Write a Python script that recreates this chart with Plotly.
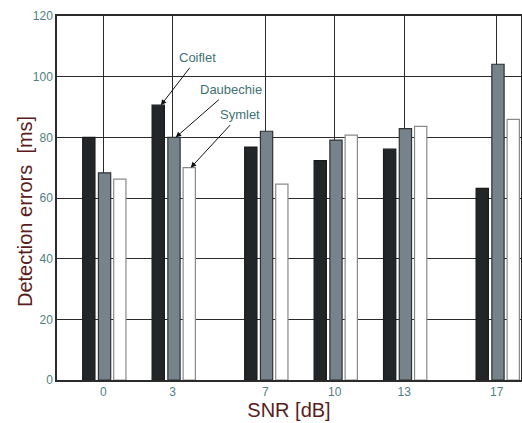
import plotly.graph_objects as go

snr = [0, 3, 7, 10, 13, 17]
coiflet = [80.0, 90.6, 76.8, 72.3, 76.1, 63.2]
daubechie = [68.3, 80.0, 82.0, 79.1, 82.9, 104.1]
symlet = [66.2, 70.0, 64.6, 80.7, 83.6, 85.9]
series_names = ["Coiflet", "Daubechie", "Symlet"]
y_ticks = [0, 20, 40, 60, 80, 100, 120]

tick_color = "#4f7f80"
title_color = "#5a1c1c"
grid_color = "#2b2b2b"
FONT = "Arial, Liberation Sans, sans-serif"

FW, FH = 522, 423
ML, MR, MT, MB = 57, 1, 16, 43
PW, PH = FW - ML - MR, FH - MT - MB

W = 0.53
offsets = [-0.89, -0.21, 0.45]
fills = ["#222628", "#77838b", "#ffffff"]
lines = ["#1a1a1a", "#2f3336", "#8a8a8a"]

fig = go.Figure()
for name, vals, off, fc, lc in zip(series_names, [coiflet, daubechie, symlet], offsets, fills, lines):
    fig.add_trace(go.Bar(
        x=snr, y=vals, name=name, width=W, offset=off,
        marker=dict(color=fc, line=dict(color=lc, width=1.2)),
        showlegend=False,
    ))

ann_font = dict(family=FONT, size=13, color="#3f7272")
label_specs = [
    (series_names[0], coiflet[1], offsets[0] + 0.38, 37, -48),
    (series_names[1], daubechie[1], offsets[1] + 0.34, 55, -48),
    (series_names[2], symlet[1], offsets[2] + 0.33, 49, -53),
]
for text, val, dx, ax, ay in label_specs:
    fig.add_annotation(
        x=snr[1] + dx, y=val, xref="x", yref="y", text=text,
        showarrow=True, arrowhead=2, arrowsize=1.1, arrowwidth=1, arrowcolor="#111111",
        ax=ax, ay=ay, font=ann_font, standoff=0, startstandoff=2,
    )

# y-axis title as rotated annotation (page px x=25, y=212)
fx, fy = 25, 212
fig.add_annotation(
    x=(fx - ML) / PW, y=(FH - fy - MB) / PH, xref="paper", yref="paper",
    xanchor="center", yanchor="middle",
    text="Detection errors  [ms]", showarrow=False, textangle=-90,
    font=dict(family=FONT, size=20, color=title_color),
)

fig.update_layout(
    width=FW, height=FH,
    margin=dict(l=ML, r=MR, t=MT, b=MB, autoexpand=False),
    paper_bgcolor="white", plot_bgcolor="white",
    barmode="overlay",
    xaxis=dict(
        range=[-2, 18.05], tickmode="array", tickvals=snr, ticktext=[str(s) for s in snr],
        showgrid=True, gridcolor=grid_color, gridwidth=1.3,
        showline=True, linecolor=grid_color, linewidth=1.5, mirror=True,
        ticks="", tickfont=dict(family=FONT, size=12, color=tick_color),
        title=dict(text="SNR [dB]", font=dict(family=FONT, size=20, color=title_color), standoff=2),
        zeroline=False, automargin=False,
    ),
    yaxis=dict(
        range=[0, 120], tickmode="array", tickvals=y_ticks,
        showgrid=True, gridcolor=grid_color, gridwidth=1.3,
        showline=True, linecolor=grid_color, linewidth=1.5, mirror=True,
        ticks="", tickfont=dict(family=FONT, size=12, color=tick_color),
        zeroline=False, automargin=False,
    ),
)

fig.write_html(
    "out.html",
    config={"displayModeBar": False},
    post_script="document.body.style.margin='0';document.body.style.overflow='hidden';",
)
